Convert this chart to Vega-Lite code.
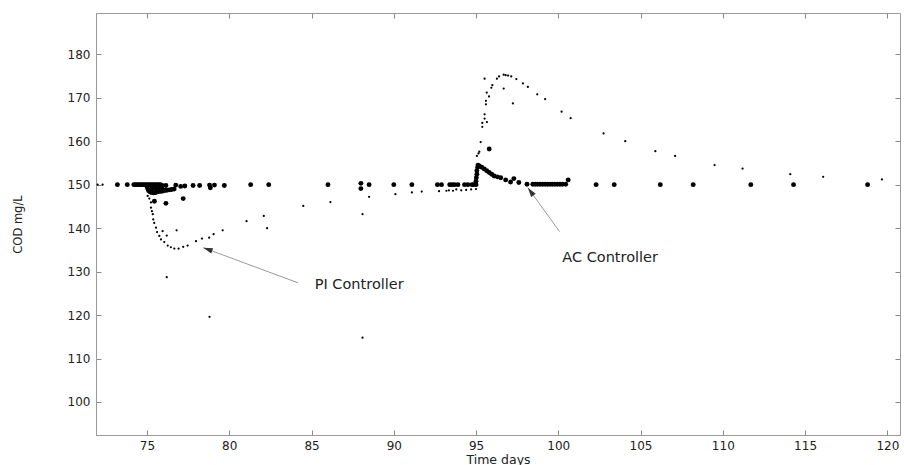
{
  "$schema": "https://vega.github.io/schema/vega-lite/v6.json",
  "autosize": {"type": "none"},
  "width": 804,
  "height": 422,
  "padding": {"left": 96, "top": 13, "right": 4, "bottom": 30},
  "background": "white",
  "config": {
    "view": {"stroke": "#9a9a9a", "strokeWidth": 1},
    "axis": {
      "domainColor": "#9a9a9a",
      "tickColor": "#8a8a8a",
      "tickSize": -5,
      "grid": false,
      "labelFont": "DejaVu Sans",
      "labelFontSize": 12,
      "labelColor": "#222222",
      "titleFont": "DejaVu Sans",
      "titleFontSize": 12.5,
      "titleFontWeight": "normal",
      "titleColor": "#222222"
    }
  },
  "datasets": {
    "pts": [
      {"c": "PI", "t": 72.0, "v": 150}, {"c": "PI", "t": 72.3, "v": 150},
      {"c": "PI", "t": 75.04, "v": 147.4}, {"c": "PI", "t": 75.14, "v": 146.8}, {"c": "PI", "t": 75.24, "v": 145.9},
      {"c": "PI", "t": 75.24, "v": 144.7}, {"c": "PI", "t": 75.30, "v": 143.9}, {"c": "PI", "t": 75.35, "v": 143.2},
      {"c": "PI", "t": 75.38, "v": 142.0}, {"c": "PI", "t": 75.44, "v": 141.2}, {"c": "PI", "t": 75.55, "v": 140.1},
      {"c": "PI", "t": 75.61, "v": 139.1}, {"c": "PI", "t": 75.75, "v": 138.2}, {"c": "PI", "t": 75.85, "v": 137.4},
      {"c": "PI", "t": 76.05, "v": 136.8}, {"c": "PI", "t": 76.26, "v": 136.0}, {"c": "PI", "t": 76.45, "v": 135.6},
      {"c": "PI", "t": 76.66, "v": 135.3}, {"c": "PI", "t": 76.92, "v": 135.3}, {"c": "PI", "t": 77.2, "v": 135.7},
      {"c": "PI", "t": 77.47, "v": 136.0}, {"c": "PI", "t": 77.98, "v": 137.0}, {"c": "PI", "t": 78.34, "v": 137.6},
      {"c": "PI", "t": 78.78, "v": 137.8}, {"c": "PI", "t": 79.05, "v": 138.6}, {"c": "PI", "t": 79.6, "v": 139.5},
      {"c": "PI", "t": 81.05, "v": 141.6}, {"c": "PI", "t": 82.1, "v": 142.8}, {"c": "PI", "t": 84.5, "v": 145.1},
      {"c": "PI", "t": 86.15, "v": 146.0}, {"c": "PI", "t": 88.5, "v": 147.2}, {"c": "PI", "t": 90.1, "v": 147.8},
      {"c": "PI", "t": 91.1, "v": 148.2}, {"c": "PI", "t": 91.7, "v": 148.4}, {"c": "PI", "t": 92.75, "v": 148.5},
      {"c": "PI", "t": 93.2, "v": 148.6}, {"c": "PI", "t": 93.35, "v": 148.7}, {"c": "PI", "t": 93.6, "v": 148.6},
      {"c": "PI", "t": 93.8, "v": 148.9}, {"c": "PI", "t": 94.1, "v": 148.7}, {"c": "PI", "t": 94.4, "v": 148.8},
      {"c": "PI", "t": 94.7, "v": 148.9}, {"c": "PI", "t": 95.0, "v": 149.0},
      {"c": "PI", "t": 75.95, "v": 139.3}, {"c": "PI", "t": 76.8, "v": 139.5}, {"c": "PI", "t": 76.2, "v": 138.3},
      {"c": "PI", "t": 82.3, "v": 140.0}, {"c": "PI", "t": 88.1, "v": 143.2}, {"c": "PI", "t": 76.2, "v": 128.7},
      {"c": "PI", "t": 78.8, "v": 119.6}, {"c": "PI", "t": 88.1, "v": 114.8},
      {"c": "PI", "t": 95.05, "v": 156.6}, {"c": "PI", "t": 95.15, "v": 157.2}, {"c": "PI", "t": 95.2, "v": 157.6},
      {"c": "PI", "t": 95.28, "v": 159.8}, {"c": "PI", "t": 95.38, "v": 163.3}, {"c": "PI", "t": 95.38, "v": 164.2},
      {"c": "PI", "t": 95.52, "v": 165.2}, {"c": "PI", "t": 95.52, "v": 166.2}, {"c": "PI", "t": 95.66, "v": 164.4},
      {"c": "PI", "t": 95.6, "v": 168.5}, {"c": "PI", "t": 95.6, "v": 169.3}, {"c": "PI", "t": 95.65, "v": 171.2},
      {"c": "PI", "t": 95.79, "v": 170.3}, {"c": "PI", "t": 95.52, "v": 174.4}, {"c": "PI", "t": 95.93, "v": 172.3},
      {"c": "PI", "t": 95.99, "v": 172.9}, {"c": "PI", "t": 96.27, "v": 174.4}, {"c": "PI", "t": 96.4, "v": 174.9},
      {"c": "PI", "t": 96.68, "v": 175.3}, {"c": "PI", "t": 96.8, "v": 175.2}, {"c": "PI", "t": 96.95, "v": 175.1},
      {"c": "PI", "t": 97.14, "v": 174.9}, {"c": "PI", "t": 97.45, "v": 174.3}, {"c": "PI", "t": 97.85, "v": 173.3},
      {"c": "PI", "t": 98.15, "v": 172.5}, {"c": "PI", "t": 98.72, "v": 170.8}, {"c": "PI", "t": 99.2, "v": 169.7},
      {"c": "PI", "t": 100.2, "v": 166.8}, {"c": "PI", "t": 100.75, "v": 165.3}, {"c": "PI", "t": 102.75, "v": 161.8},
      {"c": "PI", "t": 104.07, "v": 160.0}, {"c": "PI", "t": 105.9, "v": 157.7}, {"c": "PI", "t": 107.1, "v": 156.6},
      {"c": "PI", "t": 109.5, "v": 154.5}, {"c": "PI", "t": 111.2, "v": 153.7}, {"c": "PI", "t": 114.1, "v": 152.4},
      {"c": "PI", "t": 116.1, "v": 151.8}, {"c": "PI", "t": 119.67, "v": 151.2},
      {"c": "PI", "t": 96.68, "v": 172.1}, {"c": "PI", "t": 97.24, "v": 168.7},

      {"c": "AC", "t": 73.2, "v": 150}, {"c": "AC", "t": 73.8, "v": 150}, {"c": "AC", "t": 74.2, "v": 150},
      {"c": "AC", "t": 74.3, "v": 150}, {"c": "AC", "t": 74.4, "v": 150}, {"c": "AC", "t": 74.5, "v": 150},
      {"c": "AC", "t": 74.6, "v": 150}, {"c": "AC", "t": 74.7, "v": 150}, {"c": "AC", "t": 74.8, "v": 150},
      {"c": "AC", "t": 74.9, "v": 150}, {"c": "AC", "t": 75.0, "v": 150}, {"c": "AC", "t": 75.1, "v": 150},
      {"c": "AC", "t": 75.2, "v": 150}, {"c": "AC", "t": 75.3, "v": 150}, {"c": "AC", "t": 75.4, "v": 150},
      {"c": "AC", "t": 75.5, "v": 150}, {"c": "AC", "t": 75.6, "v": 150}, {"c": "AC", "t": 75.7, "v": 150},
      {"c": "AC", "t": 75.8, "v": 150}, {"c": "AC", "t": 75.9, "v": 149.9},
      {"c": "AC", "t": 75.0, "v": 149.5}, {"c": "AC", "t": 75.05, "v": 149.0}, {"c": "AC", "t": 75.1, "v": 148.6},
      {"c": "AC", "t": 75.2, "v": 148.3}, {"c": "AC", "t": 75.3, "v": 148.2}, {"c": "AC", "t": 75.4, "v": 148.1},
      {"c": "AC", "t": 75.5, "v": 148.2}, {"c": "AC", "t": 75.6, "v": 148.3}, {"c": "AC", "t": 75.7, "v": 148.4},
      {"c": "AC", "t": 75.8, "v": 148.5}, {"c": "AC", "t": 75.9, "v": 148.5}, {"c": "AC", "t": 76.0, "v": 148.6},
      {"c": "AC", "t": 76.1, "v": 148.7}, {"c": "AC", "t": 76.2, "v": 148.7}, {"c": "AC", "t": 76.35, "v": 148.8},
      {"c": "AC", "t": 76.5, "v": 148.9}, {"c": "AC", "t": 76.65, "v": 149.0}, {"c": "AC", "t": 75.3, "v": 149.0},
      {"c": "AC", "t": 75.5, "v": 149.2}, {"c": "AC", "t": 75.7, "v": 149.3}, {"c": "AC", "t": 75.9, "v": 149.2},
      {"c": "AC", "t": 75.45, "v": 146.2}, {"c": "AC", "t": 76.15, "v": 145.7}, {"c": "AC", "t": 77.2, "v": 146.8},
      {"c": "AC", "t": 76.15, "v": 149.8}, {"c": "AC", "t": 76.75, "v": 149.9}, {"c": "AC", "t": 77.05, "v": 149.6},
      {"c": "AC", "t": 77.3, "v": 149.7}, {"c": "AC", "t": 77.8, "v": 149.8}, {"c": "AC", "t": 78.2, "v": 149.8},
      {"c": "AC", "t": 78.8, "v": 149.9}, {"c": "AC", "t": 78.85, "v": 149.3}, {"c": "AC", "t": 79.1, "v": 149.9},
      {"c": "AC", "t": 79.7, "v": 149.8}, {"c": "AC", "t": 81.3, "v": 150}, {"c": "AC", "t": 82.4, "v": 150},
      {"c": "AC", "t": 86.0, "v": 150}, {"c": "AC", "t": 88.0, "v": 150.3}, {"c": "AC", "t": 88.0, "v": 149.1},
      {"c": "AC", "t": 88.5, "v": 150}, {"c": "AC", "t": 90.0, "v": 150}, {"c": "AC", "t": 91.1, "v": 150},
      {"c": "AC", "t": 92.65, "v": 150}, {"c": "AC", "t": 92.9, "v": 150}, {"c": "AC", "t": 93.4, "v": 150},
      {"c": "AC", "t": 93.55, "v": 150}, {"c": "AC", "t": 93.7, "v": 150}, {"c": "AC", "t": 93.9, "v": 150},
      {"c": "AC", "t": 94.3, "v": 150}, {"c": "AC", "t": 94.5, "v": 150}, {"c": "AC", "t": 94.75, "v": 150},
      {"c": "AC", "t": 94.85, "v": 150}, {"c": "AC", "t": 95.0, "v": 150},
      {"c": "AC", "t": 95.0, "v": 150.8}, {"c": "AC", "t": 95.02, "v": 151.6}, {"c": "AC", "t": 95.05, "v": 152.4},
      {"c": "AC", "t": 95.05, "v": 153.2}, {"c": "AC", "t": 95.1, "v": 154.0}, {"c": "AC", "t": 95.12, "v": 154.5},
      {"c": "AC", "t": 95.2, "v": 154.3}, {"c": "AC", "t": 95.35, "v": 154.0}, {"c": "AC", "t": 95.5, "v": 153.6},
      {"c": "AC", "t": 95.65, "v": 153.2}, {"c": "AC", "t": 95.8, "v": 152.8}, {"c": "AC", "t": 95.95, "v": 152.4},
      {"c": "AC", "t": 96.1, "v": 152.0}, {"c": "AC", "t": 96.3, "v": 151.8}, {"c": "AC", "t": 96.5, "v": 151.6},
      {"c": "AC", "t": 96.8, "v": 151.1}, {"c": "AC", "t": 97.1, "v": 150.6}, {"c": "AC", "t": 97.3, "v": 151.4},
      {"c": "AC", "t": 97.6, "v": 150.5}, {"c": "AC", "t": 98.1, "v": 150.1}, {"c": "AC", "t": 98.45, "v": 150.1},
      {"c": "AC", "t": 98.6, "v": 150.1}, {"c": "AC", "t": 98.75, "v": 150.1}, {"c": "AC", "t": 98.9, "v": 150.1},
      {"c": "AC", "t": 99.05, "v": 150.1}, {"c": "AC", "t": 99.2, "v": 150.1}, {"c": "AC", "t": 99.35, "v": 150.1},
      {"c": "AC", "t": 99.5, "v": 150.1}, {"c": "AC", "t": 99.65, "v": 150.1}, {"c": "AC", "t": 99.8, "v": 150.1},
      {"c": "AC", "t": 99.95, "v": 150.1}, {"c": "AC", "t": 100.1, "v": 150.1}, {"c": "AC", "t": 100.25, "v": 150.1},
      {"c": "AC", "t": 100.45, "v": 150.1}, {"c": "AC", "t": 100.6, "v": 151.1}, {"c": "AC", "t": 95.8, "v": 158.2},
      {"c": "AC", "t": 102.3, "v": 150}, {"c": "AC", "t": 103.4, "v": 150}, {"c": "AC", "t": 106.2, "v": 150},
      {"c": "AC", "t": 108.2, "v": 150}, {"c": "AC", "t": 111.7, "v": 150}, {"c": "AC", "t": 114.3, "v": 150},
      {"c": "AC", "t": 118.8, "v": 150}
    ],
    "arrows": [
      {"name": "PI", "t": 84.19, "v": 127.4, "t2": 78.42, "v2": 135.5, "dir": 290},
      {"name": "AC", "t": 100.08, "v": 139.2, "t2": 98.15, "v2": 149.3, "dir": 324}
    ],
    "labels": [
      {"label": "PI Controller", "t": 87.9, "v": 125.9},
      {"label": "AC Controller", "t": 103.15, "v": 132.1}
    ]
  },
  "layer": [
    {
      "data": {"name": "pts"},
      "mark": {"type": "point", "filled": true, "opacity": 1, "color": "black", "strokeWidth": 0},
      "encoding": {
        "x": {"field": "t", "type": "quantitative",
              "scale": {"domain": [71.9, 120.77], "nice": false, "zero": false},
              "axis": {"orient": "bottom", "values": [75, 80, 85, 90, 95, 100, 105, 110, 115, 120],
                       "labelPadding": 10, "title": "Time days", "titleBaseline": "alphabetic", "titleY": 28}},
        "y": {"field": "v", "type": "quantitative",
              "scale": {"domain": [92.4, 189.5], "nice": false, "zero": false},
              "axis": {"orient": "left", "values": [100, 110, 120, 130, 140, 150, 160, 170, 180],
                       "labelPadding": 11, "title": "COD mg/L", "titleFontSize": 11.5, "titleX": -73, "titleY": 211}},
        "size": {"field": "c", "type": "nominal", "scale": {"domain": ["AC", "PI"], "range": [24, 5]}, "legend": null}
      }
    },
    {
      "data": {"name": "arrows"},
      "mark": {"type": "rule", "color": "#9a9a9a", "strokeWidth": 1},
      "encoding": {
        "x": {"field": "t", "type": "quantitative",
              "axis": {"orient": "top", "values": [75, 80, 85, 90, 95, 100, 105, 110, 115, 120], "labels": false, "title": null, "domain": false}},
        "y": {"field": "v", "type": "quantitative",
              "axis": {"orient": "right", "values": [100, 110, 120, 130, 140, 150, 160, 170, 180], "labels": false, "title": null, "domain": false}},
        "x2": {"field": "t2"},
        "y2": {"field": "v2"}
      }
    },
    {
      "data": {"name": "arrows"},
      "mark": {"type": "point", "filled": true, "opacity": 1, "color": "#333333", "strokeWidth": 0,
               "shape": "M0,0L0.3,1L-0.3,1Z", "size": 360},
      "encoding": {
        "x": {"field": "t2", "type": "quantitative", "axis": null},
        "y": {"field": "v2", "type": "quantitative", "axis": null},
        "angle": {"field": "dir", "type": "quantitative", "scale": null}
      }
    },
    {
      "data": {"name": "labels"},
      "mark": {"type": "text", "font": "DejaVu Sans", "fontSize": 14.5, "color": "#222222", "align": "center", "baseline": "alphabetic"},
      "encoding": {
        "x": {"field": "t", "type": "quantitative", "axis": null},
        "y": {"field": "v", "type": "quantitative", "axis": null},
        "text": {"field": "label"}
      }
    }
  ],
  "resolve": {"axis": {"x": "independent", "y": "independent"}}
}
